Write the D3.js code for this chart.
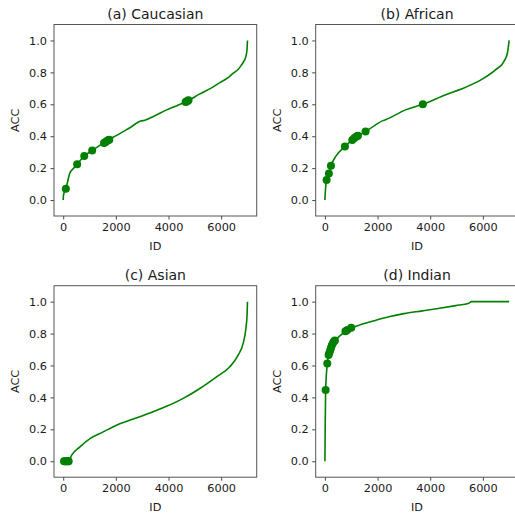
<!DOCTYPE html>
<html>
<head>
<meta charset="utf-8">
<script src="https://cdn.jsdelivr.net/npm/d3@7"></script>
<style>
  body { margin: 0; background: #fff; }
  svg text { font-family: "DejaVu Sans", sans-serif; fill: #1a1a1a; }
</style>
</head>
<body>
<svg id="chart" width="515" height="515"></svg>
<script>
// sorted per-identity accuracy
const titles = ["(a) Caucasian", "(b) African", "(c) Asian", "(d) Indian"];
const xTicks = [0, 2000, 4000, 6000];
const yTicks = [0, 0.2, 0.4, 0.6, 0.8, 1.0];

const caucasianIds = [0, 10, 100, 255, 400, 530, 800, 1100, 1500, 1700, 2030, 2500, 2950, 3100, 3500, 3930, 4300, 4690, 5190, 5600, 5950, 6250, 6460, 6650, 6775, 6880, 6940, 6980, 7000];
const caucasianAcc = [0, 0.03, 0.07, 0.17, 0.2, 0.225, 0.276, 0.31, 0.355, 0.377, 0.405, 0.45, 0.495, 0.5, 0.53, 0.565, 0.59, 0.617, 0.665, 0.7, 0.736, 0.765, 0.795, 0.82, 0.847, 0.875, 0.9, 0.94, 1.0];
const caucasianDotIds = [100, 530, 800, 1100, 1550, 1600, 1650, 1700, 1750, 4650, 4690, 4730, 4760];
const caucasianDotAcc = [0.07, 0.225, 0.276, 0.31, 0.358, 0.362, 0.368, 0.374, 0.378, 0.615, 0.618, 0.622, 0.625];

const africanIds = [0, 15, 65, 150, 230, 405, 760, 1040, 1165, 1255, 1545, 1900, 2180, 2300, 3065, 3720, 4585, 5345, 5975, 6480, 6800, 6930, 7000];
const africanAcc = [0, 0.05, 0.126, 0.167, 0.215, 0.272, 0.335, 0.377, 0.392, 0.403, 0.43, 0.468, 0.496, 0.503, 0.565, 0.6, 0.66, 0.707, 0.758, 0.816, 0.868, 0.92, 1.0];
const africanDotIds = [65, 150, 230, 760, 1040, 1120, 1200, 1255, 1545, 3720];
const africanDotAcc = [0.126, 0.167, 0.215, 0.335, 0.377, 0.388, 0.398, 0.403, 0.43, 0.6];

const asianIds = [0, 220, 320, 635, 1015, 1520, 2025, 2660, 3290, 3925, 4560, 5190, 5825, 6330, 6645, 6835, 6940, 6985, 7000];
const asianAcc = [0, 0.005, 0.038, 0.09, 0.142, 0.184, 0.226, 0.264, 0.302, 0.344, 0.394, 0.456, 0.529, 0.592, 0.665, 0.739, 0.833, 0.92, 1.0];
const asianDotIds = [30, 70, 110, 150, 190, 205];
const asianDotAcc = [0, 0, 0, 0, 0, 0];

const indianIds = [0, 10, 27, 90, 150, 215, 280, 405, 600, 810, 1040, 1400, 1800, 2430, 3000, 3700, 4300, 4965, 5470, 5560, 7000];
const indianAcc = [0, 0.2, 0.446, 0.609, 0.665, 0.697, 0.739, 0.76, 0.79, 0.816, 0.837, 0.858, 0.877, 0.905, 0.925, 0.942, 0.957, 0.975, 0.99, 1.0, 1.0];
const indianDotIds = [27, 90, 140, 170, 200, 230, 260, 300, 340, 380, 780, 850, 1000];
const indianDotAcc = [0.446, 0.612, 0.665, 0.68, 0.695, 0.71, 0.725, 0.74, 0.75, 0.757, 0.815, 0.822, 0.836];

const lines = [
  [caucasianIds, caucasianAcc], [africanIds, africanAcc],
  [asianIds, asianAcc], [indianIds, indianAcc]
];
const dots = [
  [caucasianDotIds, caucasianDotAcc], [africanDotIds, africanDotAcc],
  [asianDotIds, asianDotAcc], [indianDotIds, indianDotAcc]
];

const colLeft = [54, 315.7],
  rowTop = [24.5, 285.7],
  panelW = 202.7,
  panelH = 191.5,
  green = "#008000";

const svg = d3.select("#chart");

function zip(a, b) {
  return a.map(function (v, i) { return [v, b[i]]; });
}

function drawPanel(k) {
  var left = colLeft[k % 2], top = rowTop[Math.floor(k / 2)];
  var g = svg.append("g").attr("transform", "translate(" + left + "," + top + ")");

  var x = d3.scaleLinear().domain([-350, 7350]).range([0, panelW]);
  var y = d3.scaleLinear().domain([-0.1, 1.1]).range([panelH, 0]);

  // curve
  var line = d3.line()
    .x(function (d) { return x(d[0]); })
    .y(function (d) { return y(d[1]); })
    .curve(d3.curveMonotoneX);
  g.append("path")
    .datum(zip(lines[k][0], lines[k][1]))
    .attr("d", line)
    .attr("fill", "none")
    .attr("stroke", green)
    .attr("stroke-width", 1.6);

  g.selectAll(".dot")
    .data(zip(dots[k][0], dots[k][1]))
    .enter()
    .append("circle")
    .attr("class", "dot")
    .attr("cx", function (d) { return x(d[0]); })
    .attr("cy", function (d) { return y(d[1]); })
    .attr("r", 4)
    .attr("fill", green);

  // axes
  var xAxis = g.append("g")
    .attr("transform", "translate(0," + panelH + ")")
    .call(d3.axisBottom(x).tickValues(xTicks).tickFormat(d3.format("d")).tickSize(3.5).tickPadding(3));
  var yAxis = g.append("g")
    .call(d3.axisLeft(y).tickValues(yTicks).tickFormat(d3.format(".1f")).tickSize(3.5).tickPadding(3.5));
  [xAxis, yAxis].forEach(function (a) {
    a.select(".domain").remove();
    a.selectAll(".tick line").attr("stroke", "#333").attr("stroke-width", 0.9);
    a.selectAll(".tick text").attr("font-size", "11.3px").attr("fill", "#1a1a1a");
  });

  // frame
  g.append("rect")
    .attr("width", panelW)
    .attr("height", panelH)
    .attr("fill", "none")
    .attr("stroke", "#555")
    .attr("stroke-width", 1);

  g.append("text")
    .attr("x", panelW / 2)
    .attr("y", -5.5)
    .attr("text-anchor", "middle")
    .attr("font-size", "14px")
    .text(titles[k]);

  g.append("text")
    .attr("x", panelW / 2)
    .attr("y", panelH + 33.5)
    .attr("text-anchor", "middle")
    .attr("font-size", "11.3px")
    .text("ID");

  g.append("text")
    .attr("transform", "translate(" + (-35) + "," + (panelH / 2) + ") rotate(-90)")
    .attr("text-anchor", "middle")
    .attr("font-size", "11.3px")
    .text("ACC");
}

for (var k = 0; k < 4; k++) drawPanel(k);
</script>
</body>
</html>
